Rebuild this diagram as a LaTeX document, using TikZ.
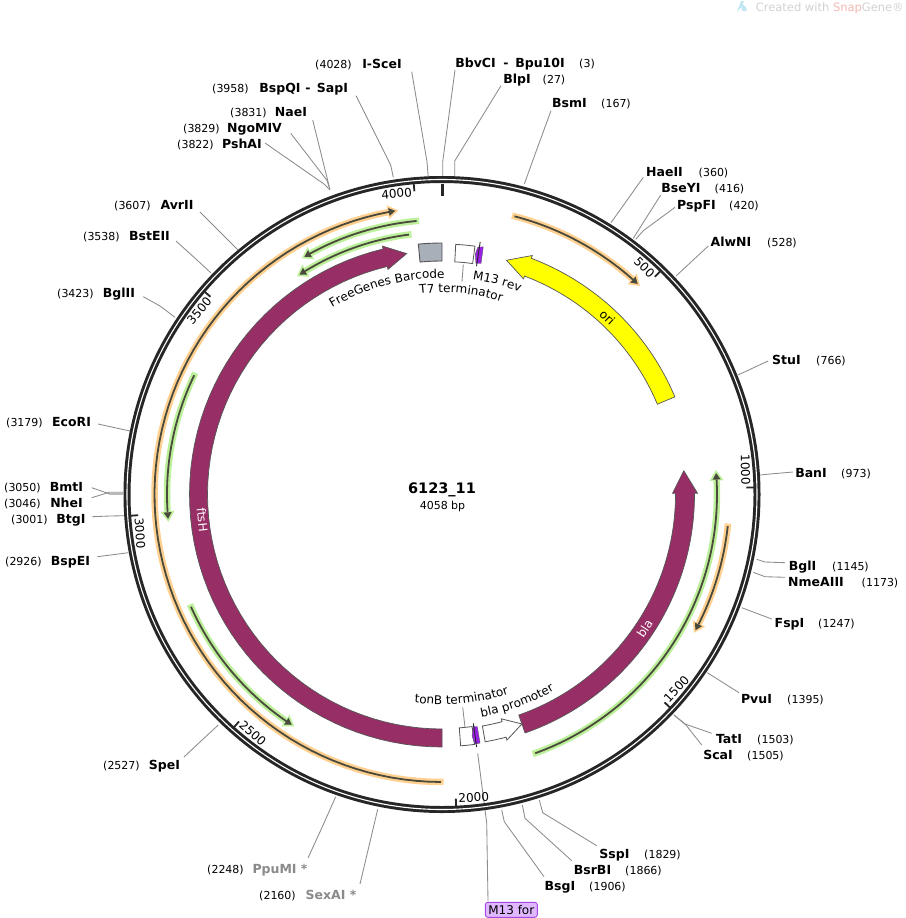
\documentclass[tikz,border=0pt]{standalone}
\usepackage{fontspec}
\setmainfont{DejaVu Sans}
\usetikzlibrary{decorations.text}
\definecolor{ringc}{HTML}{262626}
\definecolor{leaderc}{HTML}{8C8C8C}
\definecolor{stubc}{HTML}{B8B8B8}
\definecolor{fadegray}{HTML}{8A8A8A}
\definecolor{cmag}{HTML}{982E66}
\definecolor{cyel}{HTML}{FFFF00}
\definecolor{cgray}{HTML}{A9AFB8}
\definecolor{cpurple}{HTML}{9B1FE8}
\definecolor{haloO}{HTML}{FFD08F}
\definecolor{haloG}{HTML}{BDF09A}
\definecolor{darkline}{HTML}{4A4A3C}
\definecolor{edgec}{HTML}{555555}
\definecolor{boxfill}{HTML}{E0B8FF}
\definecolor{boxedge}{HTML}{A648E6}
\definecolor{markgray}{HTML}{D2D2D2}
\definecolor{markred}{HTML}{F2B8B0}
\definecolor{markblue}{HTML}{BFE6F2}
\tikzset{
  enzname/.style={font=\fontsize{12.5}{15}\bfseries\selectfont,inner sep=0pt,anchor=base},
  enznum/.style={font=\fontsize{11}{14}\selectfont,inner sep=0pt,anchor=base},
  leader/.style={draw=leaderc,line width=0.85pt,line join=round},
  stub/.style={draw=stubc,line width=3pt},
  ticklabel/.style={font=\fontsize{12}{14}\selectfont,inner sep=2.5pt},
  majortick/.style={draw=ringc,line width=1.8pt},
  bandmag/.style={fill=cmag,draw=edgec,line width=0.7pt,line join=miter},
  bandyel/.style={fill=cyel,draw=edgec,line width=0.7pt},
  whitefeat/.style={fill=white,draw=edgec,line width=0.8pt},
  grayfeat/.style={fill=cgray,draw=edgec,line width=0.9pt},
  purplefeat/.style={fill=cpurple,draw=edgec,line width=0.4pt},
  bandtext/.style={font=\fontsize{12}{14}\selectfont,inner sep=0pt},
}
\newcommand{\featfont}{\fontsize{12}{14}\selectfont}
% id, num x, y, num, name x, name, label end, elbow, ring end
\newcommand{\enz}[9]{%
  \node[enznum] (#1-num) at (#2,#3+5) {#4};
  \node[enzname] (#1-name) at (#5,#3+5) {#6};
  \coordinate (#1-lab) at (#7);
  \coordinate (#1-mid) at (#8);
  \coordinate (#1-ring) at (#9);
  \draw[leader] (#1-lab) -- (#1-mid) -- (#1-ring);
}
% style, tail, head base, tip, r in, r out
\newcommand{\bandarrow}[6]{%
  \draw[#1] ({#2-90}:#6) -- plot[domain=#2:#3,samples=60] ({\x-90}:#6)
    -- ({#3-90}:{#6+3}) -- ({#4-90}:{(#5+#6)/2}) -- ({#3-90}:{#5-3})
    -- plot[domain=#3:#2,samples=60] ({\x-90}:#5) -- cycle;
}
% halo colour, r, start, tip
\newcommand{\thinarc}[4]{%
  \pgfmathsetmacro\dgp{sign(#4-#3)*57.296/#2}
  \pgfmathsetmacro\hS{#3-2.5*\dgp}
  \pgfmathsetmacro\hB{#4-10.5*\dgp}
  \pgfmathsetmacro\dT{#4-3*\dgp}
  \pgfmathsetmacro\dB{#4-9.5*\dgp}
  \draw[#1,line width=6.5pt] plot[domain=\hS:\hB,samples=70] ({\x-90}:#2);
  \fill[#1] ({\hB-90}:{#2-7}) -- ({#4-90}:#2) -- ({\hB-90}:{#2+7}) -- cycle;
  \draw[darkline,line width=1.8pt] plot[domain=#3:\dB,samples=70] ({\x-90}:#2);
  \fill[darkline] ({\dB-90}:{#2-4}) -- ({\dT-90}:#2) -- ({\dB-90}:{#2+4}) -- cycle;
}
% radius, from, to, text
\newcommand{\curvetext}[4]{%
  \path[decorate,decoration={text along path,text align=center,text={|\featfont|#4}}]
    plot[domain=#2:#3,samples=80] ({\x-90}:#1);
}
\begin{document}
\begin{tikzpicture}[x=1pt,y=-1pt]
\useasboundingbox (0,0) rectangle (905,918);
\fill[white] (0,0) rectangle (905,918);

% watermark
\fill[markblue] (737,12) -- (741,1) -- (744,1) -- (741.5,7) -- cycle;
\fill[markblue] (742,4) .. controls (745,6) and (747,8) .. (747,10) .. controls (746,12) and (743,12) .. (741.5,10) -- cycle;
\node[font=\fontsize{11.5}{14}\selectfont,inner sep=0pt,anchor=base east,text=markgray] (mark) at (904,11)
  {Created with \textcolor{markred}{Snap}Gene®};

% restriction sites
\enz{ISceI}{333.5}{63}{(4028)}{382}{I-SceI}{411.7,71.7}{427,161.7}{428.3,178}
\enz{BbvCI}{587}{62}{(3)}{475.5}{BbvCI}{455,70}{442.7,161.7}{442.7,178}
\node[enzname] (BbvCI-dash) at (506,67) {-};
\node[enzname] (Bpu10I-name) at (540,67) {Bpu10I};
\enz{BlpI}{554}{78}{(27)}{517}{BlpI}{501,85.7}{454.7,161}{454.7,178}
\enz{BsmI}{616}{102}{(167)}{569.5}{BsmI}{551,110.7}{537.6,147.3}{524.3,184}
\enz{HaeII}{713.5}{171}{(360)}{664.5}{HaeII}{643.3,177.3}{627.15,200}{611,222.7}
\enz{BseYI}{729.5}{187}{(416)}{681}{BseYI}{660.7,195}{647,216.65}{633.3,238.3}
\enz{PspFI}{744}{204}{(420)}{696.5}{PspFI}{675,207.3}{643.3,230.7}{635.7,239.3}
\enz{AlwNI}{782}{241}{(528)}{731}{AlwNI}{708.3,246}{692.15,261}{676,276}
\enz{StuI}{831}{359}{(766)}{786.5}{StuI}{768,361}{753,368}{738,375}
\enz{BanI}{856}{472}{(973)}{811}{BanI}{793,472}{770,474}{760,475}
\enz{BglI}{850.5}{565}{(1145)}{802.5}{BglI}{785,562.7}{765,562}{756.7,559.3}
\enz{NmeAIII}{880}{581}{(1173)}{816}{NmeAIII}{785,577.3}{765,576.7}{753.3,572.3}
\enz{FspI}{836.5}{622}{(1247)}{789.5}{FspI}{771.7,619}{756.7,613.35}{741.7,607.7}
\enz{PvuI}{805.5}{698}{(1395)}{756.5}{PvuI}{739,692.7}{723.15,682.7}{707.3,672.7}
\enz{TatI}{775.5}{738}{(1503)}{729}{TatI}{711.7,733.3}{685,724}{674,715}
\enz{ScaI}{765.5}{754}{(1505)}{718}{ScaI}{701.7,745}{686,725}{674,715}
\enz{SspI}{662.5}{853}{(1829)}{614.5}{SspI}{596.7,845.7}{542.7,812.7}{539.3,800}
\enz{BsrBI}{643.5}{869}{(1866)}{592.5}{BsrBI}{571.7,860.7}{525,818.3}{522.3,805}
\enz{BsgI}{607.5}{885}{(1906)}{560}{BsgI}{544,876.7}{504.3,821.7}{501.7,810}
\enz{SexAI}{277.5}{894}{(2160)}{331}{\textcolor{fadegray}{SexAI *}}{360,884}{368.85,846.65}{377.7,809.3}
\enz{PpuMI}{225.5}{868}{(2248)}{280}{\textcolor{fadegray}{PpuMI *}}{308,858}{322,827.5}{335.7,796.7}
\enz{SpeI}{121.5}{764}{(2527)}{164.5}{SpeI}{184,757}{201,741}{218.3,725}
\enz{BspEI}{23.5}{560}{(2926)}{70.5}{BspEI}{97.3,556.7}{112.8,554.7}{128.3,552.7}
\enz{BtgI}{29.5}{518}{(3001)}{71}{BtgI}{92.3,516.7}{110,516}{125,515.7}
\enz{NheI}{22.5}{502}{(3046)}{66.5}{NheI}{91.7,497.7}{109.3,492.3}{123.3,492.3}
\enz{BmtI}{22.5}{486}{(3050)}{66.5}{BmtI}{91.7,487.7}{109.3,493.8}{123.3,493.8}
\draw[stub] (BmtI-mid) -- (BmtI-ring);
\enz{EcoRI}{24.5}{421}{(3179)}{71.5}{EcoRI}{98,424}{114,427.5}{130,431}
\enz{BglII}{75.5}{292}{(3423)}{119}{BglII}{143.3,296.7}{160,306}{175,317.3}
\enz{BstEII}{101.5}{235}{(3538)}{149.5}{BstEII}{176,241}{197,260}{210.7,272.7}
\enz{AvrII}{132.5}{204}{(3607)}{177}{AvrII}{200,212}{219,231}{238,250}
\enz{PshAI}{195.5}{143}{(3822)}{242}{PshAI}{265,143}{324,184}{330,190}
\enz{NgoMIV}{201.5}{127}{(3829)}{254.5}{NgoMIV}{290.7,133.3}{326.7,180}{330,189}
\enz{NaeI}{248.5}{111}{(3831)}{291}{NaeI}{312.7,120}{321,153.5}{329.3,187}
\enz{BspQI}{230.5}{87}{(3958)}{280}{BspQI}{356,95.7}{390.7,165}{393.3,177.3}
\node[enzname] (BspQI-dash) at (308,92) {-};
\node[enzname] (SapI-name) at (332.5,92) {SapI};

% primer label
\node[draw=boxedge,fill=boxfill,rounded corners=2.5pt,line width=0.9pt,minimum width=52pt,minimum height=15pt,inner sep=0pt,font=\fontsize{12}{14}\selectfont] (M13for) at (511.3,909.8) {M13 for};
\coordinate (M13for-top) at (488,901);
\coordinate (M13for-bend) at (486.7,823);
\coordinate (M13for-feat) at (477.7,753.3);
\draw[leader] (M13for-feat) -- (M13for-bend) -- (M13for-top);

\begin{scope}[shift={(442,494.5)}]
% backbone
\draw[ringc,line width=7pt] (0,0) circle[radius=315];
\draw[white,line width=1.1pt] (0,0) circle[radius=315];
\draw[ringc,line width=3pt] (-90:311) -- (-90:298.5);
\foreach \a/\t/\anc/\rot in {44.35/500/east/-44.35, 88.7/1000/east/-88.7, 133.05/1500/west/46.95, 177.4/2000/west/2.6, 221.8/2500/west/-41.8, 266.1/3000/west/-86.1, 310.5/3500/east/49.5, 354.8/4000/east/5.2}{
  \draw[majortick] ({\a-90}:312) -- ({\a-90}:304.5);
  \node[ticklabel,anchor=\anc,rotate=\rot] (tick\t) at ({\a-90}:304) {\t};
}

% thin arrows
\thinarc{haloO}{287.5}{14.6}{43.5}
\thinarc{haloO}{287.5}{96.3}{118.75}
\thinarc{haloO}{287.5}{180.2}{351.25}
\thinarc{haloG}{275}{160.2}{84.9}
\thinarc{haloG}{275}{245.9}{212.5}
\thinarc{haloG}{275}{295.7}{264.3}
\thinarc{haloG}{274.7}{354.7}{329.3}
\thinarc{haloG}{262}{352.75}{326.4}

% main features
\bandarrow{bandmag}{180}{346.5}{351.65}{234.5}{252.5}
\bandarrow{bandmag}{160.8}{89.7}{84.4}{233.5}{252.5}
\bandarrow{bandyel}{67.25}{20.7}{15.4}{233.5}{252.5}
\bandarrow{whitefeat}{170.1}{165.2}{160.8}{235}{251}

\draw[grayfeat] (-5.4-90:251.5) -- plot[domain=-5.4:0,samples=10] ({\x-90}:251.5) -- plot[domain=0:-5.4,samples=10] ({\x-90}:233.5) -- cycle;
\draw[whitefeat] (3.14-90:250.5) -- plot[domain=3.14:7.56,samples=10] ({\x-90}:250.5) -- plot[domain=7.56:3.14,samples=10] ({\x-90}:233) -- cycle;
\draw[whitefeat] (175.76-90:234) -- plot[domain=175.76:172.6,samples=10] ({\x-90}:234) -- plot[domain=172.6:175.76,samples=10] ({\x-90}:252) -- cycle;

% primers
\draw[purplefeat] (9.46-90:251) -- (9.58-90:234.3) -- (8.37-90:233.5) -- (7.88-90:242.8) -- (8.27-90:250) -- cycle;
\draw[ringc,line width=0.9pt] (8.6-90:231) -- (8.6-90:255.4);
\draw[purplefeat] (171.35-90:234.9) -- (172.3-90:234.3) -- (172.9-90:243.4) -- (172.47-90:251.7) -- (171.3-90:251.4) -- cycle;
\draw[ringc,line width=0.9pt] (172.2-90:231) -- (172.2-90:255);

% labels inside bands
\node[bandtext,rotate=-43] (oriT) at (43-90:242.5) {ori};
\node[bandtext,text=white,rotate=-84] (ftsHT) at (264-90:241) {ftsH};
\node[bandtext,text=white,rotate=56.5] (blaT) at (123.5-90:243) {bla};

% curved labels
\curvetext{216.5}{-33.9}{4.1}{FreeGenes Barcode}
\curvetext{202}{-10.8}{21.6}{T7 terminator}
\curvetext{217}{4.1}{25}{M13 rev}
\curvetext{210}{191.9}{157.1}{tonB terminator}
\curvetext{226}{173.9}{146.2}{bla promoter}
\end{scope}

\coordinate (T7-feat) at (463.3,264.3);
\coordinate (T7-text) at (462,281.7);
\draw[leader] (T7-feat) -- (T7-text);
\coordinate (tonB-feat) at (465,727.3);
\coordinate (tonB-text) at (462.7,707.3);
\draw[leader] (tonB-feat) -- (tonB-text);

% centre
\node[font=\fontsize{14.5}{17}\bfseries\selectfont,inner sep=0pt] (title) at (442,490) {6123\_11};
\node[font=\fontsize{11}{14}\selectfont,inner sep=0pt] (size) at (442.5,506) {4058 bp};
\end{tikzpicture}
\end{document}
